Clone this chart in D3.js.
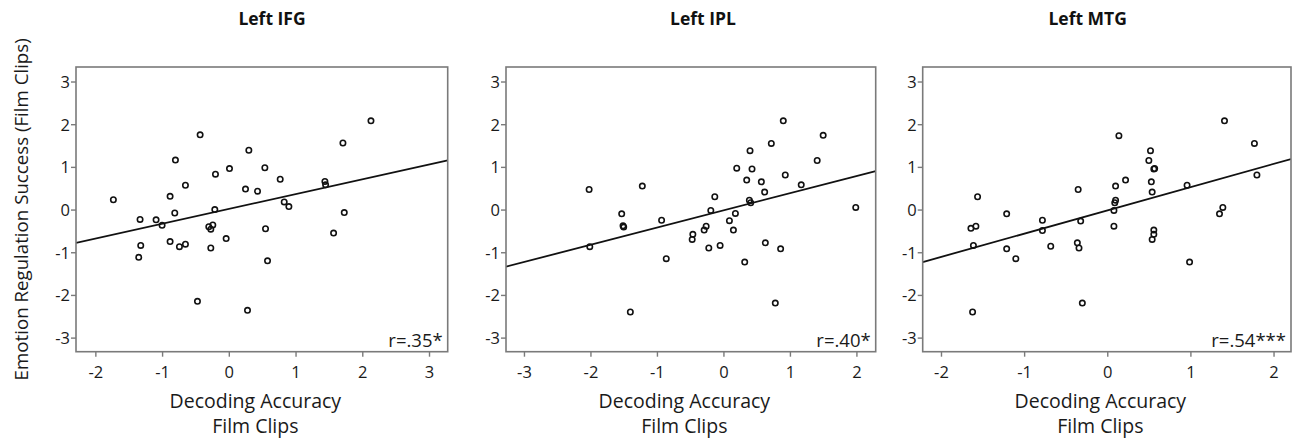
<!DOCTYPE html>
<html>
<head>
<meta charset="utf-8">
<script src="https://cdn.jsdelivr.net/npm/d3@7"></script>
<style>
  body { margin: 0; background: #fff; font-family: "Open Sans", sans-serif; }
  .tick-label { font-size: 16.5px; fill: #1a1a1a; }
  .axis-label { font-size: 19.5px; fill: #1a1a1a; }
  .y-label { font-size: 18.7px; fill: #1a1a1a; }
  .title { font-size: 17.5px; font-weight: bold; fill: #111; }
  .r-label { font-size: 18.5px; fill: #1a1a1a; }
</style>
</head>
<body>
<svg id="chart" width="1296" height="441"></svg>
<script>
// panel titles and stats
const titles = ["Left IFG", "Left IPL", "Left MTG"];
const rLabels = ["r=.35*", "r=.40*", "r=.54***"];

// x = decoding accuracy, y = emotion regulation success
const ifgX = [-1.73, -1.33, -1.32, -1.35, -1.09, -1.00, -0.88, -0.81, -0.80, -0.88, -0.74, -0.65, -0.65,
  -0.43, -0.30, -0.27, -0.24, -0.27, -0.21, -0.20, 0.01, -0.04, 0.25, 0.30, 0.43, 0.54, 0.55, 0.58,
  0.77, 0.83, 0.90, 1.44, 1.45, 1.57, 1.71, 1.73, 2.13, -0.47, 0.28];
const ifgY = [0.23, -0.23, -0.84, -1.12, -0.24, -0.37, 0.31, -0.08, 1.16, -0.75, -0.87, -0.81, 0.57,
  1.75, -0.40, -0.46, -0.36, -0.90, 0.00, 0.83, 0.96, -0.68, 0.48, 1.39, 0.43, 0.98, -0.45, -1.20,
  0.71, 0.18, 0.07, 0.66, 0.58, -0.55, 1.56, -0.07, 2.08, -2.15, -2.36];

const iplX = [-2.02, -2.01, -1.53, -1.50, -1.51, -1.22, -0.93, -0.86, -0.46, -0.47, -0.29, -0.26, -0.22,
  -0.19, -0.13, -0.05, 0.09, 0.15, 0.18, 0.20, 0.32, 0.35, 0.39, 0.41, 0.40, 0.43, 0.57, 0.62, 0.63,
  0.72, 0.86, 0.90, 0.93, 1.17, 1.41, 1.50, 1.99, -1.40, 0.78];
const iplY = [0.47, -0.87, -0.10, -0.41, -0.38, 0.55, -0.25, -1.15, -0.58, -0.70, -0.48, -0.39, -0.90,
  -0.02, 0.30, -0.84, -0.26, -0.48, -0.09, 0.97, -1.23, 0.69, 0.22, 0.16, 1.38, 0.95, 0.65, 0.41, -0.78,
  1.55, -0.92, 2.08, 0.81, 0.58, 1.15, 1.74, 0.05, -2.40, -2.19];

const mtgX = [-1.64, -1.58, -1.56, -1.61, -1.21, -1.21, -1.10, -0.78, -0.78, -0.68, -0.36, -0.34, -0.35,
  -0.32, 0.08, 0.08, 0.09, 0.10, 0.10, 0.14, 0.22, 0.50, 0.52, 0.56, 0.57, 0.53, 0.54, 0.56, 0.56,
  0.54, 0.96, 0.99, 1.35, 1.39, 1.41, 1.77, 1.80, -1.62, -0.30];
const mtgY = [-0.44, -0.39, 0.30, -0.84, -0.10, -0.92, -1.15, -0.25, -0.49, -0.86, -0.78, -0.90, 0.47,
  -0.27, -0.39, -0.02, 0.16, 0.22, 0.55, 1.73, 0.69, 1.15, 1.38, 0.95, 0.96, 0.65, 0.41, -0.48, -0.58,
  -0.70, 0.57, -1.23, -0.10, 0.05, 2.08, 1.55, 0.81, -2.40, -2.19];

// fitted lines (intercept, slope)
const fitIntercepts = [0.015, -0.02, -0.02];
const fitSlopes = [0.347, 0.403, 0.545];

// axis ranges and ticks
const xDomains = [[-2.29, 3.28], [-3.27, 2.29], [-2.22, 2.21]];
const xTicks = [[-2, -1, 0, 1, 2, 3], [-3, -2, -1, 0, 1, 2], [-2, -1, 0, 1, 2]];
const yDomain = [-3.33, 3.34];
const yTicks = [-3, -2, -1, 0, 1, 2, 3];

const xLabelLines = ["Decoding Accuracy", "Film Clips"];
const yLabel = "Emotion Regulation Success (Film Clips)";

const panelData = [[ifgX, ifgY], [iplX, iplY], [mtgX, mtgY]];

// layout
const plotTop = 67, plotBottom = 351.7;
const lefts = [76, 506, 922.7];
const rights = [447.7, 875.7, 1291];
const titleOffsets = [196, 197, 165];
const frameColor = "#7a7a7a";

const svg = d3.select("#chart");

const yScale = d3.scaleLinear().domain(yDomain).range([plotBottom, plotTop]);
const plainTick = d => String(d); // hyphen minus like the original

panelData.forEach(([xs, ys], p) => {
    const xScale = d3.scaleLinear().domain(xDomains[p]).range([lefts[p], rights[p]]);
    const g = svg.append("g");

    // clip so fit line stops at frame
    g.append("clipPath").attr("id", "clip" + p)
        .append("rect")
        .attr("x", lefts[p]).attr("y", plotTop)
        .attr("width", rights[p] - lefts[p]).attr("height", plotBottom - plotTop);

    // fit line
    const fx = xDomains[p];
    g.append("line")
        .attr("clip-path", `url(#clip${p})`)
        .attr("x1", xScale(fx[0])).attr("y1", yScale(fitIntercepts[p] + fitSlopes[p] * fx[0]))
        .attr("x2", xScale(fx[1])).attr("y2", yScale(fitIntercepts[p] + fitSlopes[p] * fx[1]))
        .attr("stroke", "#111")
        .attr("stroke-width", 1.8);

    // points
    g.selectAll(".pt")
        .data(xs.map((x, i) => [x, ys[i]]))
        .enter()
        .append("circle")
        .attr("class", "pt")
        .attr("cx", d => xScale(d[0]))
        .attr("cy", d => yScale(d[1]))
        .attr("r", 2.7)
        .attr("fill", "none")
        .attr("stroke", "#111")
        .attr("stroke-width", 1.6);

    // frame
    g.append("rect")
        .attr("x", lefts[p]).attr("y", plotTop)
        .attr("width", rights[p] - lefts[p]).attr("height", plotBottom - plotTop)
        .attr("fill", "none")
        .attr("stroke", frameColor)
        .attr("stroke-width", 1.6);

    // x axis
    const xAxis = g.append("g")
        .attr("transform", `translate(0,${plotBottom})`)
        .call(d3.axisBottom(xScale).tickValues(xTicks[p]).tickSize(5).tickSizeOuter(0).tickFormat(plainTick));
    xAxis.select(".domain").remove();
    xAxis.selectAll(".tick line").attr("stroke", frameColor).attr("stroke-width", 1.4);
    xAxis.selectAll(".tick text")
        .attr("class", "tick-label")
        .attr("y", 11).attr("dy", "0.9em");
    xAxis.attr("font-family", null).attr("font-size", null);

    // y axis
    const yAxis = g.append("g")
        .attr("transform", `translate(${lefts[p]},0)`)
        .call(d3.axisLeft(yScale).tickValues(yTicks).tickSize(5).tickSizeOuter(0).tickFormat(plainTick));
    yAxis.select(".domain").remove();
    yAxis.selectAll(".tick line").attr("stroke", frameColor).attr("stroke-width", 1.4);
    yAxis.selectAll(".tick text")
        .attr("class", "tick-label")
        .attr("x", -6).attr("dy", "0.36em");
    yAxis.attr("font-family", null).attr("font-size", null);

    // title
    g.append("text")
        .attr("class", "title")
        .attr("x", lefts[p] + titleOffsets[p])
        .attr("y", 25)
        .attr("text-anchor", "middle")
        .text(titles[p]);

    // r value
    g.append("text")
        .attr("class", "r-label")
        .attr("x", rights[p] - 5)
        .attr("y", plotBottom - 5)
        .attr("text-anchor", "end")
        .text(rLabels[p]);

    // x axis label
    const cx = (lefts[p] + rights[p]) / 2 - 6.5;
    g.selectAll(".xlab")
        .data(xLabelLines)
        .enter()
        .append("text")
        .attr("class", "axis-label")
        .attr("x", cx)
        .attr("y", (d, i) => 408 + i * 25)
        .attr("text-anchor", "middle")
        .text(d => d);
});

// y axis label
svg.append("text")
    .attr("class", "y-label")
    .attr("transform", `translate(28,${(plotTop + plotBottom) / 2}) rotate(-90)`)
    .attr("text-anchor", "middle")
    .text(yLabel);
</script>
</body>
</html>
